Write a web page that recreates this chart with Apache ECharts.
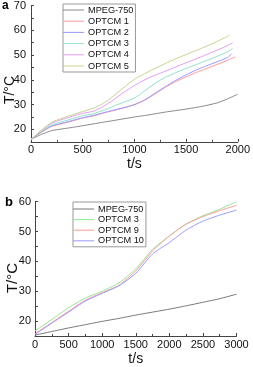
<!DOCTYPE html>
<html><head><meta charset="utf-8">
<script src="https://cdn.jsdelivr.net/npm/echarts@6/dist/echarts.min.js"></script>
<style>html,body{margin:0;padding:0;background:#fff}#c{width:253px;height:367px}</style>
</head><body><div id="c"></div>
<script>
// ---- Panel a ----
var timeA = [0,100,200,300,400,500,600,700,800,900,1000,1100,1200,1300,1400,1500,1600,1700,1800,1900];
var namesA = ['MPEG-750','OPTCM 1','OPTCM 2','OPTCM 3','OPTCM 4','OPTCM 5'];
var lastTimeA = [2000,1975,1940,1950,1950,1920];
var mpegA  = [16,18,19.5,20.2,20.8,21.5,22.2,22.9,23.6,24.3,25,25.6,26.3,27,27.6,28.2,28.9,29.7,30.7,32.3,34.2];
var optcm1A = [16,18.8,21.2,22.3,23.4,24.6,25.4,26.6,27.6,28.7,30,31.8,34.3,37,39.3,41.2,43,44.6,46.2,47.9,49.3];
var optcm2A = [16,19,21.4,22.5,23.6,24.7,25.6,26.7,27.8,28.8,30,31.9,34.6,37.3,39.8,42,44,45.7,47.3,49,50.4];
var optcm3A = [16,19.2,21.8,23.1,24.3,25.5,26.3,27.7,29.4,31,32.6,35.6,38.6,41,42.9,44.6,46.2,47.8,49.5,51.3,52.7];
var optcm4A = [16,19.5,22.5,24,25.3,26.5,27.3,29.3,32,35,37.7,40,41.9,43.5,45.2,46.9,48.5,50.2,52,53.8,55];
var optcm5A = [16,19.6,22.9,24.5,25.9,27.2,28.5,30.5,33.6,37,40.2,42.5,44.6,46.6,48.5,50.2,51.9,53.6,55.5,57.5,58];
var colorsA = ['#8a8a8a','#ff9a9a','#9a9aff','#8fe3c9','#e49cf5','#c6d58e'];
var valuesA = [mpegA,optcm1A,optcm2A,optcm3A,optcm4A,optcm5A];

// ---- Panel b ----
var timeB = [0,250,500,750,1000,1250,1500,1750,2000,2250,2500,2750,3000];
var namesB = ['MPEG-750','OPTCM 3','OPTCM 9','OPTCM 10'];
var mpegB  = [15.3,16.5,17.7,18.8,19.9,20.9,22,23,24,25.1,26.3,27.5,29];
var optcm3B = [16.7,20.5,24.5,27.7,30,32.8,37.5,44,48.5,52.5,55.3,57.5,60];
var optcm9B = [15.8,19.5,23.3,27,29.5,32,36.8,43.5,48.5,52.5,55,57,58.8];
var optcm10B = [15.5,19.3,23,26.7,29.3,31.8,36,42.5,46.3,50.5,53.5,55.5,57.2];
var colorsB = ['#777777','#8fe88f','#ff9a9a','#9a9aff'];
var valuesB = [mpegB,optcm3B,optcm9B,optcm10B];

var FONT = "'Liberation Sans', Arial, sans-serif";
var series = [];
namesA.forEach(function(n,i){
  var v = valuesA[i];
  var d = timeA.map(function(t,j){return [t, v[j]];});
  d.push([lastTimeA[i], v[v.length-1]]);
  series.push({name:n, type:'line', xAxisIndex:0, yAxisIndex:0, data:d, symbol:'none', showSymbol:false,
    smooth:0.2,
    lineStyle:{width:1, color:colorsA[i]}, itemStyle:{color:colorsA[i]}, z:2+i});
});
namesB.forEach(function(n,i){
  var v = valuesB[i];
  var d = timeB.map(function(t,j){return [t, v[j]];});
  series.push({name:n+' ', type:'line', xAxisIndex:1, yAxisIndex:1, data:d, symbol:'none', showSymbol:false,
    smooth:0.2,
    lineStyle:{width:1, color:colorsB[i]}, itemStyle:{color:colorsB[i]}, z:2+i});
});

function xAx(idx, max){
  return {type:'value', gridIndex:idx, min:0, max:max, interval:500,
    axisLine:{show:true, lineStyle:{color:'#444', width:1}},
    axisTick:{show:true, inside:true, length:3, lineStyle:{color:'#444'}},
    minorTick:{show:true, splitNumber:2, length:2, lineStyle:{color:'#444'}},
    splitLine:{show:false},
    axisLabel:{margin:3, fontSize:11, color:'#111', fontFamily:FONT, formatter:function(v){return String(v);}},
    name:'t/s', nameLocation:'middle', nameGap: idx===0?13:16,
    nameTextStyle:{fontSize:14, color:'#111', fontFamily:FONT}};
}
function yAx(idx, max){
  return {type:'value', gridIndex:idx, min:15, max:max, interval:5,
    axisLine:{show:true, lineStyle:{color:'#444', width:1}},
    axisTick:{show:true, inside:true, length:3, lineStyle:{color:'#444'}},
    splitLine:{show:false},
    axisLabel:{margin:idx===0?5:4, fontSize:11, color:'#111', fontFamily:FONT,
      formatter:function(v){return v%10===0?String(v):'';}}};
}

var chart = echarts.init(document.getElementById('c'), null, {renderer:'canvas'});
chart.setOption({
  animation:false,
  backgroundColor:'#fff',
  grid:[
    {left:31, right:11, top:5.5, height:136.3},
    {left:35, right:16.5, top:201.7, height:138}
  ],
  xAxis:[xAx(0,2000), xAx(1,3000)],
  yAxis:[yAx(0,70), yAx(1,60)],
  legend:[
    {data:namesA, orient:'vertical', left:63, top:4, icon:'rect', itemWidth:21, itemHeight:1, itemGap:1.2,
     padding:[1,2,1,0], borderColor:'#999', borderWidth:1,
     textStyle:{fontSize:9.2, color:'#111', fontFamily:FONT, lineHeight:10, padding:[0,0,0,-1]}},
    {data:namesB.map(function(n){return n+' ';}), orient:'vertical', left:73, top:202, icon:'rect', itemWidth:21, itemHeight:1, itemGap:0.6,
     padding:[2,2,1,0], borderColor:'#999', borderWidth:1,
     formatter:function(n){return n.trim();},
     textStyle:{fontSize:9.2, color:'#111', fontFamily:FONT, lineHeight:10, padding:[0,0,0,-1]}}
  ],
  graphic:[
    {type:'text', left:2, top:0, style:{text:'a', font:'bold 12px '+FONT, fill:'#000'}},
    {type:'text', left:5, top:196, style:{text:'b', font:'bold 13px '+FONT, fill:'#000'}},
    {type:'text', x:10, y:90, rotation:Math.PI/2, style:{text:'T/°C', font:'14px '+FONT, fill:'#111', align:'center', verticalAlign:'middle'}},
    {type:'text', x:13, y:278, rotation:Math.PI/2, style:{text:'T/°C', font:'15px '+FONT, fill:'#111', align:'center', verticalAlign:'middle'}}
  ],
  series:series
});
</script></body></html>
